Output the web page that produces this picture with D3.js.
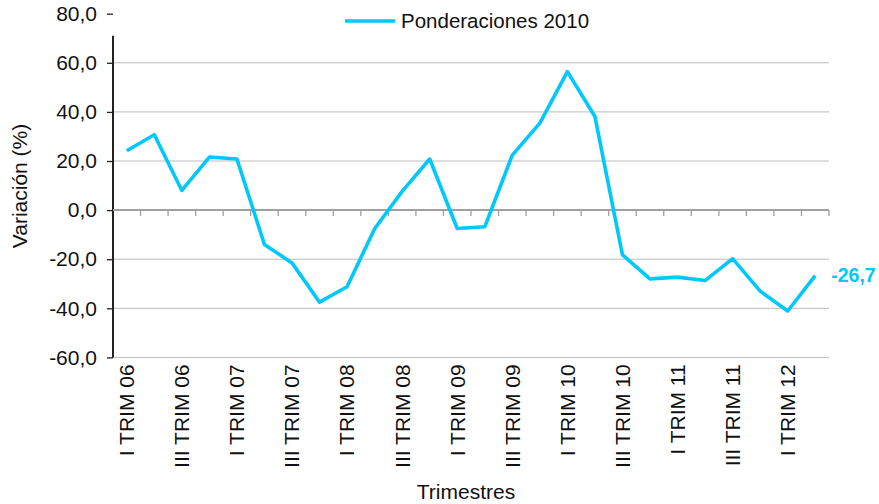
<!DOCTYPE html>
<html>
<head>
<meta charset="utf-8">
<script src="https://cdn.jsdelivr.net/npm/d3@7"></script>
<style>
  body { margin: 0; background: #fff; }
  svg { display: block; font-family: "Liberation Sans", Arial, sans-serif; }
</style>
</head>
<body>
<div id="chart"></div>
<script>
// quarters shown on the x axis
const quarters = [
    'I TRIM 06', 'II TRIM 06', 'III TRIM 06', 'IV TRIM 06',
    'I TRIM 07', 'II TRIM 07', 'III TRIM 07', 'IV TRIM 07',
    'I TRIM 08', 'II TRIM 08', 'III TRIM 08', 'IV TRIM 08',
    'I TRIM 09', 'II TRIM 09', 'III TRIM 09', 'IV TRIM 09',
    'I TRIM 10', 'II TRIM 10', 'III TRIM 10', 'IV TRIM 10',
    'I TRIM 11', 'II TRIM 11', 'III TRIM 11', 'IV TRIM 11',
    'I TRIM 12', 'II TRIM 12'
];

// variation (%) - Ponderaciones 2010
const variacion = [
    24.2, 30.7, 8.0, 21.6, 20.8, -14.0, -21.5, -37.5, -31.2, -7.6,
    7.6, 20.8, -7.5, -6.8, 22.4, 35.4, 56.4, 38.1, -18.2, -28.0,
    -27.3, -28.7, -19.8, -33.0, -41.1, -26.7
];

const yTicks = [-60, -40, -20, 0, 20, 40, 60, 80];
const gridTicks = [-60, -40, -20, 20, 40, 60];
const seriesName = 'Ponderaciones 2010';

const width = 879, height = 504;
const margin = {left: 113, right: 50, top: 13.7, bottom: 146.6};
const axisTopValue = 71; // vertical axis line stops below the 80 tick
const lineColor = '#00c8fa';

// spanish style number: comma decimal, plain hyphen for negatives
const fmt = v => d3.format('.1f')(v).replace('.', ',').replace('\u2212', '-');

const svg = d3.select('#chart').append('svg')
    .attr('width', width)
    .attr('height', height);

const x = d3.scaleBand()
    .domain(quarters)
    .range([margin.left, width - margin.right])
    .paddingInner(0).paddingOuter(0);

const y = d3.scaleLinear()
    .domain([-60, 80])
    .range([height - margin.bottom, margin.top]);

// horizontal gridlines
svg.append('g')
    .selectAll('line')
    .data(gridTicks)
    .enter().append('line')
    .attr('x1', x.range()[0])
    .attr('x2', x.range()[1])
    .attr('y1', d => y(d))
    .attr('y2', d => y(d))
    .style('stroke', '#bcbcbc')
    .style('stroke-width', 1);

// y axis
const yAxis = svg.append('g')
    .attr('transform', `translate(${margin.left},0)`)
    .call(d3.axisLeft(y).tickValues(yTicks).tickFormat(fmt).tickSize(6).tickSizeOuter(0).tickPadding(10));
yAxis.select('.domain').remove();
yAxis.selectAll('.tick line').style('stroke', '#222').style('stroke-width', 1.3);
yAxis.selectAll('.tick text')
    .style('font-size', '21px')
    .style('fill', '#111');
yAxis.append('line')
    .attr('x1', 0).attr('x2', 0)
    .attr('y1', y(axisTopValue))
    .attr('y2', y(-60))
    .style('stroke', '#222')
    .style('stroke-width', 2);

// zero line with category ticks
const boundaries = quarters.map(q => x(q)).concat([x.range()[1]]);
const zeroAxis = svg.append('g');
zeroAxis.selectAll('line.tk')
    .data(boundaries.slice(1))
    .enter().append('line')
    .attr('class', 'tk')
    .attr('x1', d => d).attr('x2', d => d)
    .attr('y1', y(0)).attr('y2', y(0) + 6)
    .style('stroke', '#a0a0a0')
    .style('stroke-width', 1.3);
zeroAxis.append('line')
    .attr('x1', x.range()[0]).attr('x2', x.range()[1])
    .attr('y1', y(0)).attr('y2', y(0))
    .style('stroke', '#a0a0a0')
    .style('stroke-width', 2);

// category labels (every second quarter)
svg.append('g')
    .selectAll('text')
    .data(quarters.filter((q, i) => i % 2 === 0))
    .enter().append('text')
    .attr('transform', d => `translate(${x(d) + x.bandwidth() / 2},${y(-60) + 7}) rotate(-90)`)
    .attr('dy', '0.35em')
    .style('text-anchor', 'end')
    .style('font-size', '21px')
    .style('fill', '#111')
    .text(d => d);

// the line
const line = d3.line()
    .x((d, i) => x(quarters[i]) + x.bandwidth() / 2)
    .y(d => y(d));

svg.append('path')
    .datum(variacion)
    .attr('d', line)
    .style('fill', 'none')
    .style('stroke', lineColor)
    .style('stroke-width', 3.6)
    .style('stroke-linejoin', 'round');

// last value label
const last = variacion.length - 1;
svg.append('text')
    .attr('x', x(quarters[last]) + x.bandwidth() / 2 + 16)
    .attr('y', y(variacion[last]))
    .attr('dy', '0.35em')
    .style('font-size', '19.5px')
    .style('font-weight', 'bold')
    .style('fill', lineColor)
    .text(fmt(variacion[last]));

// legend
const legend = svg.append('g').attr('transform', 'translate(345,21)');
legend.append('line')
    .attr('x1', 0).attr('x2', 50)
    .style('stroke', lineColor)
    .style('stroke-width', 3.6);
legend.append('text')
    .attr('x', 56)
    .attr('dy', '0.35em')
    .style('font-size', '20.5px')
    .style('fill', '#111')
    .text(seriesName);

// axis titles
svg.append('text')
    .attr('transform', 'translate(20,186) rotate(-90)')
    .attr('dy', '0.35em')
    .style('text-anchor', 'middle')
    .style('font-size', '21px')
    .style('fill', '#111')
    .text('Variación (%)');

svg.append('text')
    .attr('x', 466)
    .attr('y', 499)
    .style('text-anchor', 'middle')
    .style('font-size', '21px')
    .style('fill', '#111')
    .text('Trimestres');
</script>
</body>
</html>
